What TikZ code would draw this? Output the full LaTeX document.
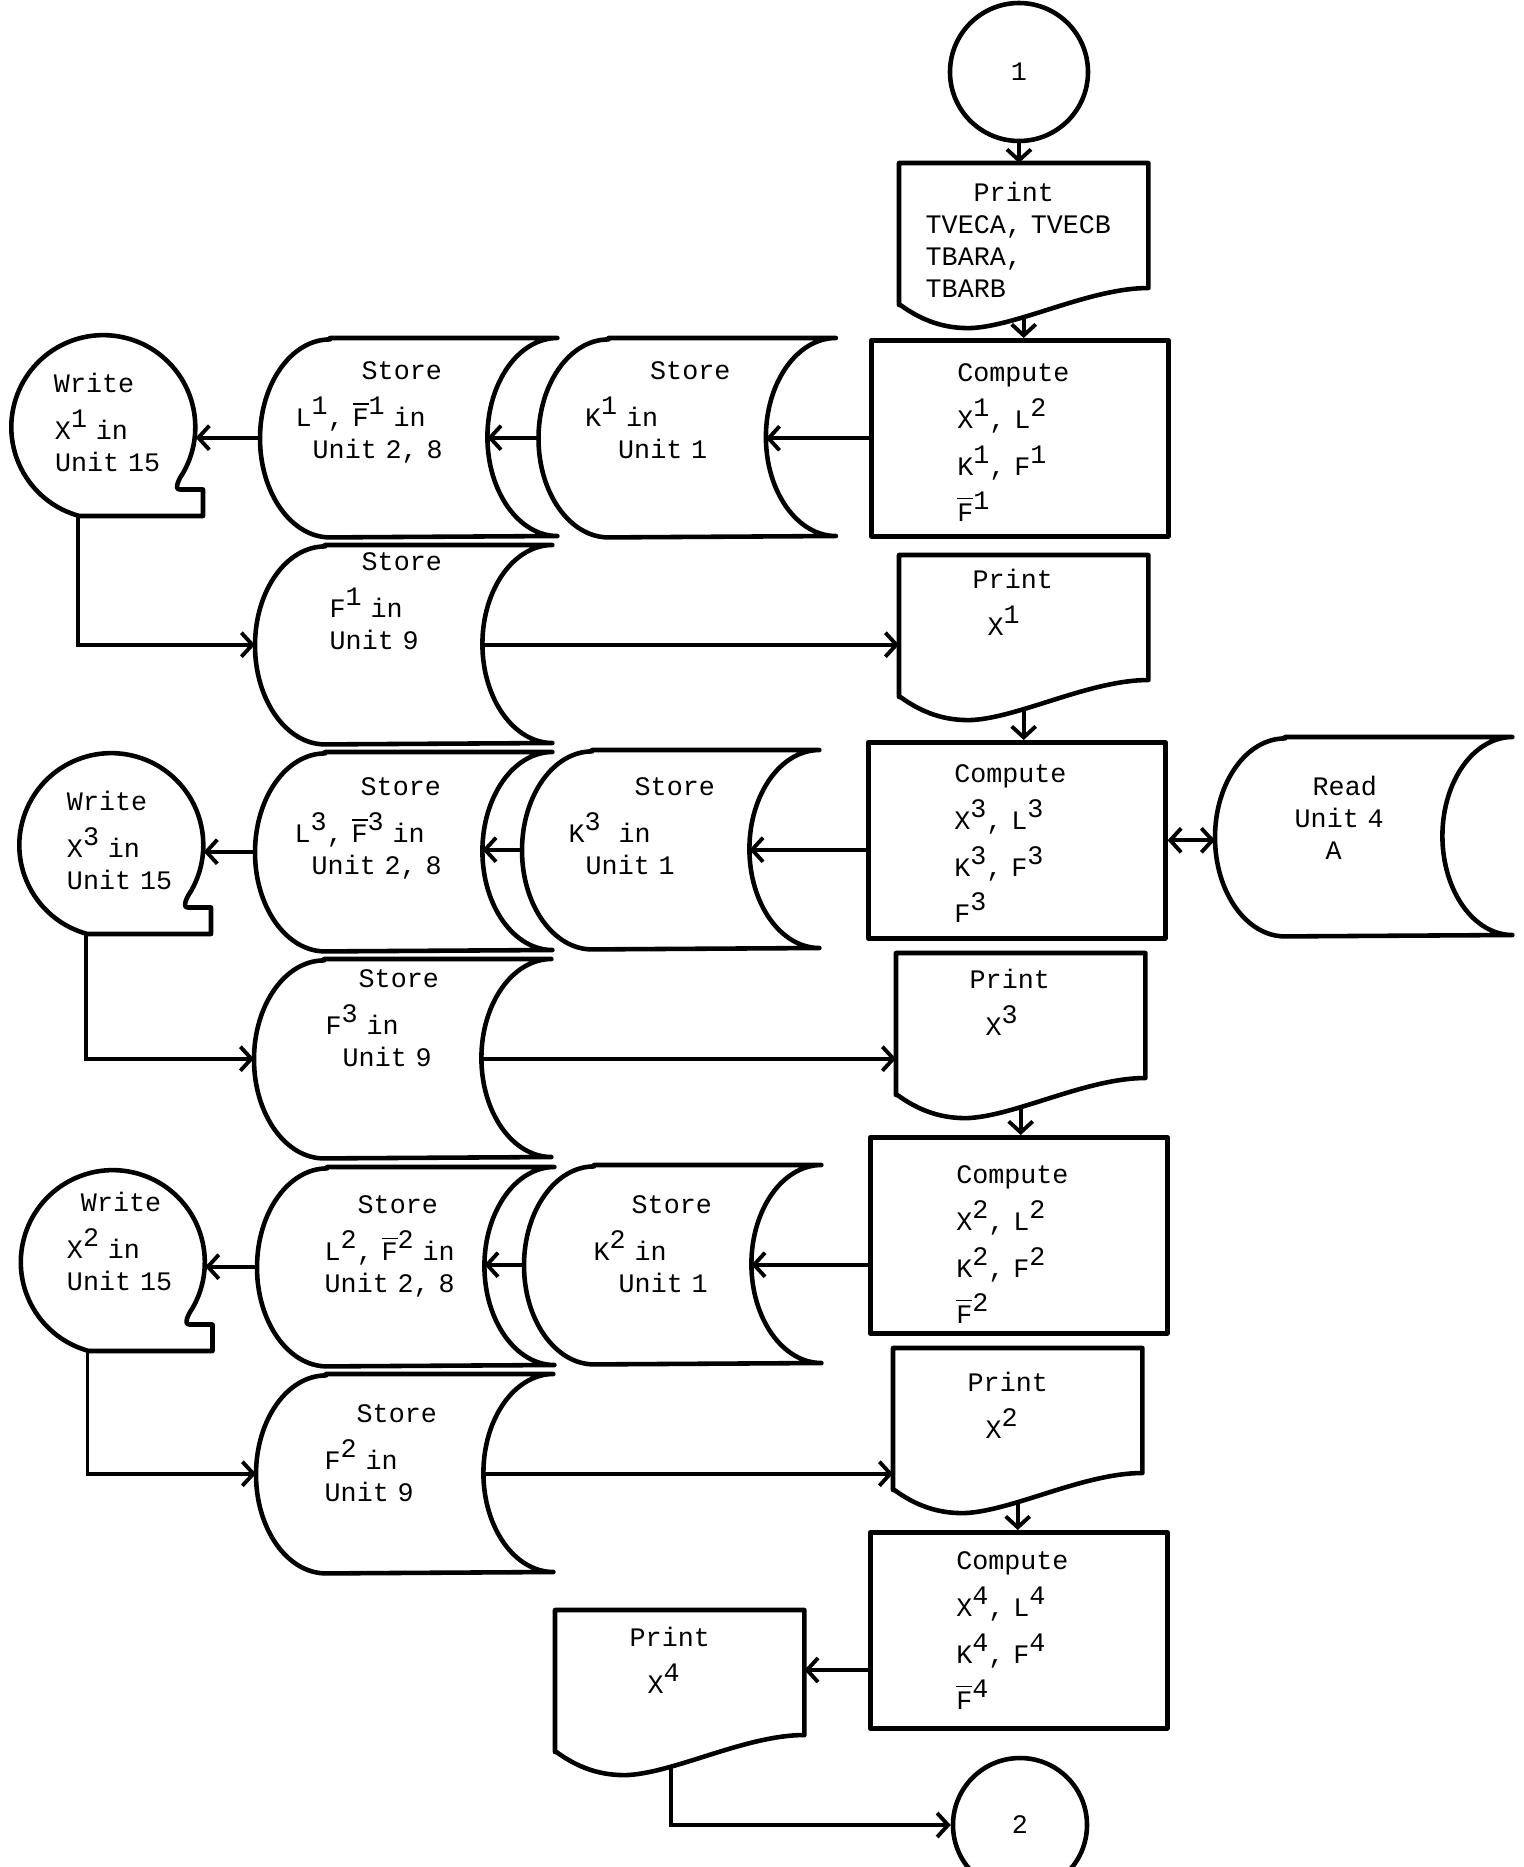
\documentclass[tikz,border=0pt]{standalone}
\usepackage{fontspec}
\setmonofont{Liberation Mono}
\usetikzlibrary{arrows.meta}
\newcommand{\machine}{\ttfamily\fontsize{7.6pt}{0.32cm}\selectfont}
\newcommand{\haut}[1]{\smash{\raisebox{0.12cm}{#1}}}
\newcommand{\Fbarre}{\smash{$\overline{\mbox{F}}$}}
\tikzset{
  trait/.style={line width=1.3pt, line join=round},
  fleche/.style={line width=1.1pt, -{Straight Barb[length=1.1mm, width=2.4mm]}},
  fleches/.style={line width=1.1pt, {Straight Barb[length=1.1mm, width=2.4mm]}-{Straight Barb[length=1.1mm, width=2.4mm]}},
  texte/.style={inner sep=0pt, align=left, font=\machine},
  calcul/.style={texte, draw, trait, anchor=north west, inner xsep=0.86cm, text width=1.25cm, text height=#1, text depth={1.96cm-#1}},
  stockage/.style={texte, anchor=north west, text width=2.96cm, text height=#1, text depth={1.98cm-#1}},
  impression/.style={texte, anchor=north west, text width=2.48cm, text height=#1, text depth={1.54cm-#1}},
  bande/.style={texte, text width=1.84cm, text height=#1, text depth={1.84cm-#1}},
  renvoi/.style={draw, trait, circle, inner sep=0pt, font=\machine},
}

\begin{document}
\begin{tikzpicture}
  \useasboundingbox (0,0) rectangle (15.23,-18.67);
  % Entree
  \node[renvoi, minimum size=1.38cm] (o1) at (10.19,-0.72) {1};
  \node[impression=0.38cm] (p0) at (8.99,-1.63) {\hspace*{0.74cm}Print\\
    \hspace*{0.26cm}TVECA, TVECB\\
    \hspace*{0.26cm}TBARA,\\
    \hspace*{0.26cm}TBARB};
  % Bloc 1
  \node[calcul=0.41cm] (c1) at (8.69,-3.38) {Compute\\[0.15cm]X\haut{1}, L\haut{2}\\[0.15cm]K\haut{1}, F\haut{1}\\[0.14cm]\Fbarre\haut{1}};
  \node[stockage=0.41cm] (k1) at (5.385,-3.38) {\hspace*{1.11cm}Store\\[0.15cm]\hspace*{0.46cm}K\haut{1} in\\\hspace*{0.79cm}Unit 1};
  \node[stockage=0.41cm] (l1) at (2.60,-3.38) {\hspace*{1.01cm}Store\\[0.15cm]\hspace*{0.35cm}L\haut{1}, \Fbarre\haut{1} in\\\hspace*{0.52cm}Unit 2, 8};
  \node[bande=0.57cm] (w1) at (1.03,-4.27) {\hspace*{0.43cm}Write\\[0.15cm]\hspace*{0.44cm}X\haut{1} in\\\hspace*{0.44cm}Unit 15};
  \node[stockage=0.25cm] (f1) at (2.55,-5.45) {\hspace*{1.06cm}Store\\[0.15cm]\hspace*{0.74cm}F\haut{1} in\\\hspace*{0.74cm}Unit 9};
  \node[impression=0.33cm] (p1) at (8.99,-5.55) {\hspace*{0.73cm}Print\\[0.15cm]\hspace*{0.88cm}X\haut{1}};
  % Bloc 3
  \node[calcul=0.40cm] (c3) at (8.66,-7.40) {Compute\\[0.15cm]X\haut{3}, L\haut{3}\\[0.15cm]K\haut{3}, F\haut{3}\\[0.14cm]F\haut{3}};
  \node[stockage=0.58cm] (r4) at (12.15,-7.37) {\hspace*{0.97cm}Read\\\hspace*{0.79cm}Unit 4\\\hspace*{1.10cm}A};
  \node[stockage=0.45cm] (k3) at (5.22,-7.50) {\hspace*{1.12cm}Store\\[0.15cm]\hspace*{0.46cm}K\haut{3}~~in\\\hspace*{0.63cm}Unit 1};
  \node[stockage=0.43cm] (l3) at (2.55,-7.52) {\hspace*{1.05cm}Store\\[0.15cm]\hspace*{0.39cm}L\haut{3}, \Fbarre\haut{3} in\\\hspace*{0.56cm}Unit 2, 8};
  \node[bande=0.57cm] (w3) at (1.11,-8.45) {\hspace*{0.48cm}Write\\[0.15cm]\hspace*{0.48cm}X\haut{3} in\\\hspace*{0.48cm}Unit 15};
  \node[stockage=0.28cm] (f3) at (2.54,-9.59) {\hspace*{1.04cm}Store\\[0.15cm]\hspace*{0.71cm}F\haut{3} in\\\hspace*{0.88cm}Unit 9};
  \node[impression=0.35cm] (p3) at (8.96,-9.53) {\hspace*{0.73cm}Print\\[0.15cm]\hspace*{0.89cm}X\haut{3}};
  % Bloc 2
  \node[calcul=0.46cm] (c2) at (8.68,-11.35) {Compute\\[0.15cm]X\haut{2}, L\haut{2}\\[0.15cm]K\haut{2}, F\haut{2}\\[0.14cm]\Fbarre\haut{2}};
  \node[stockage=0.48cm] (k2) at (5.24,-11.65) {\hspace*{1.07cm}Store\\[0.15cm]\hspace*{0.69cm}K\haut{2} in\\\hspace*{0.94cm}Unit 1};
  \node[stockage=0.46cm] (l2) at (2.57,-11.67) {\hspace*{1.00cm}Store\\[0.15cm]\hspace*{0.67cm}L\haut{2}, \Fbarre\haut{2} in\\\hspace*{0.67cm}Unit 2, 8};
  \node[bande=0.41cm] (w2) at (1.125,-12.62) {\hspace*{0.605cm}Write\\[0.15cm]\hspace*{0.465cm}X\haut{2} in\\\hspace*{0.465cm}Unit 15};
  \node[stockage=0.48cm] (f2) at (2.56,-13.74) {\hspace*{1.00cm}Store\\[0.15cm]\hspace*{0.68cm}F\haut{2} in\\\hspace*{0.68cm}Unit 9};
  \node[impression=0.43cm] (p2) at (8.93,-13.48) {\hspace*{0.74cm}Print\\[0.15cm]\hspace*{0.92cm}X\haut{2}};
  % Bloc 4 et sortie
  \node[calcul=0.37cm] (c4) at (8.68,-15.30) {Compute\\[0.15cm]X\haut{4}, L\haut{4}\\[0.15cm]K\haut{4}, F\haut{4}\\[0.14cm]\Fbarre\haut{4}};
  \node[impression=0.36cm] (p4) at (5.55,-16.10) {\hspace*{0.74cm}Print\\[0.15cm]\hspace*{0.92cm}X\haut{4}};
  \node[renvoi, minimum size=1.34cm] (o2) at (10.20,-18.25) {2};

  % Contours : memoires, listings, bandes
  \foreach \n in {k1,l1,f1,r4,k3,l3,f3,k2,l2,f2} {
    \draw[trait] ([xshift=0.70cm]\n.north west) -- (\n.north east)
      arc[start angle=90, end angle=270, x radius=0.70cm, y radius=0.99cm]
      -- ([xshift=0.70cm]\n.south west)
      arc[start angle=270, end angle=90, x radius=0.70cm, y radius=0.99cm] -- cycle;
    \coordinate (\n-c) at ([xshift=-0.70cm]\n.east);
  }
  \foreach \n in {p0,p1,p3,p2,p4}
    \draw[trait] ([yshift=-1.42cm]\n.north west) -- (\n.north west) -- (\n.north east)
      -- ([yshift=-1.25cm]\n.north east)
      .. controls +(-0.58,0) and +(0.48,0.03) .. ++(-1.76,-0.40)
      .. controls +(-0.27,-0.01) and +(0.22,-0.16) .. ++(-0.72,0.23) -- cycle;
  \foreach \n in {w1,w3,w2}
    \draw[trait] ([shift={(-0.235,-0.89)}]\n.center) arc[start angle=255, end angle=-30, radius=0.92cm]
      to[out=235, in=180] ([shift={(0.77,-0.625)}]\n.center)
      -- ([shift={(1.00,-0.625)}]\n.center) -- ([shift={(1.00,-0.89)}]\n.center) -- cycle;
  \coordinate (p4-e) at ([yshift=-0.60cm]p4.north east);

  % Liaisons
  \draw[fleche] (o1.south) -- (o1.south |- p0.north);
  \draw[fleche] (p0.south) -- (p0.south |- c1.north);
  \draw[fleche] (c1.west) -- (c1.west -| k1-c);
  \draw[fleche] (k1.west) -- (k1.west -| l1-c);
  \draw[fleche] (l1.west) -- (l1.west -| w1.east);
  \draw[fleche] ([shift={(-0.25,-0.89)}]w1.center) |- (f1.west);
  \draw[fleche] (f1-c) -- (f1-c -| p1.west);
  \draw[fleche] (p1.south) -- (p1.south |- c3.north);
  \draw[fleche] (c3.west |- k3-c) -- (k3-c);
  \draw[fleches] (c3.east) -- (c3.east -| r4.west);
  \draw[fleche] (k3.west) -- (k3.west -| l3-c);
  \draw[fleche] (l3.west) -- (l3.west -| w3.east);
  \draw[fleche] ([shift={(-0.25,-0.89)}]w3.center) |- (f3.west);
  \draw[fleche] (f3-c) -- (f3-c -| p3.west);
  \draw[fleche] (p3.south) -- (p3.south |- c2.north);
  \draw[fleche] (c2.west |- k2-c) -- (k2-c);
  \draw[fleche] (k2.west) -- (k2.west -| l2-c);
  \draw[fleche] (l2.west) -- (l2.west -| w2.east);
  \draw[fleche] ([shift={(-0.25,-0.89)}]w2.center) |- (f2.west);
  \draw[fleche] (f2-c) -- (f2-c -| p2.west);
  \draw[fleche] (p2.south) -- (p2.south |- c4.north);
  \draw[fleche] (c4.west |- p4-e) -- (p4-e);
  \draw[fleche] ([xshift=-0.09cm]p4.south) |- (o2.west);
\end{tikzpicture}
\end{document}
